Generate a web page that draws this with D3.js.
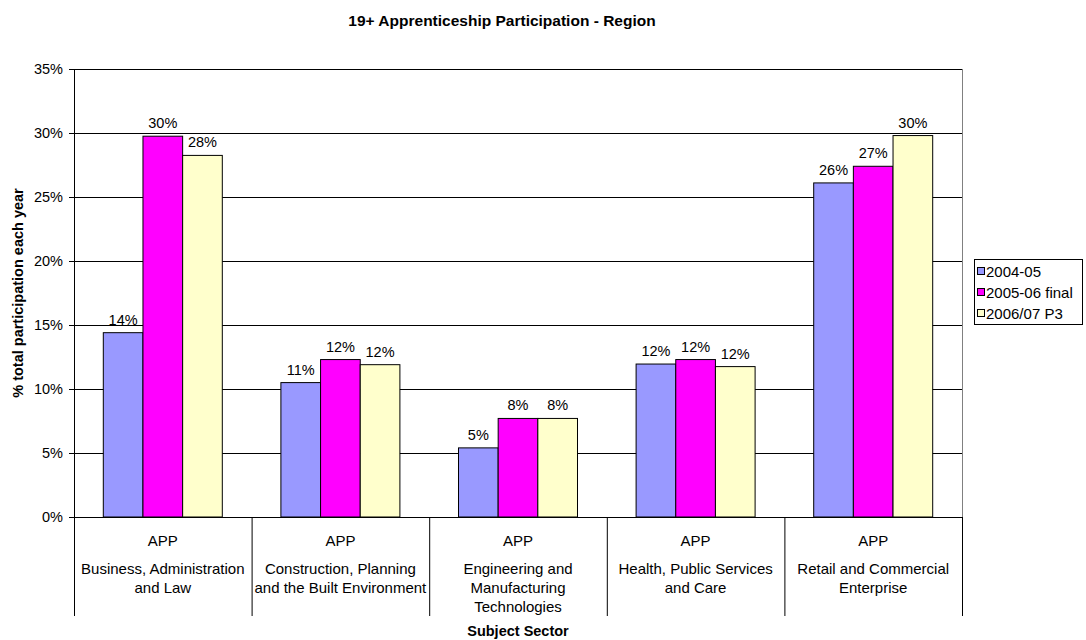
<!DOCTYPE html>
<html>
<head>
<meta charset="utf-8">
<script src="https://cdn.jsdelivr.net/npm/d3@7"></script>
<style>
  body { margin: 0; background: #fff; }
  text { font-family: "Liberation Sans", Arial, sans-serif; fill: #000; }
</style>
</head>
<body>
<div id="chart"></div>
<script>
const sectors = [
  ["Business, Administration", "and Law"],
  ["Construction, Planning", "and the Built Environment"],
  ["Engineering and", "Manufacturing", "Technologies"],
  ["Health, Public Services", "and Care"],
  ["Retail and Commercial", "Enterprise"]
];
const seriesNames = ["2004-05", "2005-06 final", "2006/07 P3"];
const v2004 = [14.4, 10.5, 5.4, 11.95, 26.1];
const v2005 = [29.75, 12.3, 7.7, 12.3, 27.4];
const v2006 = [28.25, 11.9, 7.7, 11.75, 29.8];
const yTicks = [0, 5, 10, 15, 20, 25, 30, 35];
const colors = ["#9999FF", "#FF00FF", "#FFFFCC"];

const W = 1086, H = 640;
const margin = { top: 69, right: 124, bottom: 123, left: 74 };
const width = W - margin.left - margin.right;
const height = H - margin.top - margin.bottom;

const svg = d3.select("#chart").append("svg")
  .attr("width", W).attr("height", H);

svg.append("text")
  .attr("x", 502).attr("y", 26)
  .attr("text-anchor", "middle")
  .style("font-size", "15.5px").style("font-weight", "bold")
  .text("19+ Apprenticeship Participation - Region");

const g = svg.append("g").attr("transform", `translate(${margin.left},${margin.top})`);

const x0 = d3.scaleBand().domain(d3.range(sectors.length)).range([0, width]);
const x1 = d3.scaleBand().domain(d3.range(3)).range([29.3, x0.bandwidth() - 29.3]);
const y = d3.scaleLinear().domain([0, 35]).range([height, 0]);

// gridlines
g.selectAll(".grid").data(yTicks.slice(1)).enter().append("line")
  .attr("x1", 0).attr("x2", width)
  .attr("y1", d => y(d) + 0.5).attr("y2", d => y(d) + 0.5)
  .attr("stroke", "#000").attr("stroke-width", 1);

// right border
g.append("line")
  .attr("x1", width + 0.5).attr("x2", width + 0.5)
  .attr("y1", 0).attr("y2", height)
  .attr("stroke", "#808080");

// y axis
const yAxis = g.append("g")
  .call(d3.axisLeft(y).tickValues(yTicks).tickFormat(d => d + "%").tickSize(5).tickSizeOuter(0));
yAxis.select(".domain").attr("stroke", "#000");
yAxis.selectAll("text").style("font-size", "14.5px").attr("x", -11);

const data = sectors.map((s, i) => [v2004[i], v2005[i], v2006[i]]);

const groups = g.selectAll(".grp").data(data).enter().append("g")
  .attr("transform", (d, i) => `translate(${x0(i)},0)`);

groups.selectAll("rect").data(d => d).enter().append("rect")
  .attr("x", (d, j) => x1(j))
  .attr("y", d => y(d))
  .attr("width", x1.bandwidth())
  .attr("height", d => height - y(d))
  .attr("fill", (d, j) => colors[j])
  .attr("stroke", "#000").attr("stroke-width", 1);

groups.selectAll(".val").data(d => d).enter().append("text")
  .attr("x", (d, j) => x1(j) + x1.bandwidth() / 2)
  .attr("y", d => y(d) - 8)
  .attr("text-anchor", "middle")
  .style("font-size", "14.5px")
  .text(d => Math.round(d) + "%");

// x axis baseline and category separators
g.append("line")
  .attr("x1", 0).attr("x2", width)
  .attr("y1", height + 0.5).attr("y2", height + 0.5)
  .attr("stroke", "#000");

g.selectAll(".sep").data(d3.range(sectors.length + 1)).enter().append("line")
  .attr("x1", i => (i < sectors.length ? x0(i) : width) + 0.5)
  .attr("x2", i => (i < sectors.length ? x0(i) : width) + 0.5)
  .attr("y1", height).attr("y2", height + 99)
  .attr("stroke", "#000");

const labels = g.selectAll(".cat").data(sectors).enter().append("g")
  .attr("transform", (d, i) => `translate(${x0(i) + x0.bandwidth() / 2},${height})`);

labels.append("text")
  .attr("y", 29).attr("text-anchor", "middle")
  .style("font-size", "15px").text("APP");

labels.selectAll(".ln").data(d => d).enter().append("text")
  .attr("y", (d, k) => 57 + k * 19)
  .attr("text-anchor", "middle")
  .style("font-size", "15px")
  .text(d => d);

g.append("text")
  .attr("x", width / 2).attr("y", height + 119)
  .attr("text-anchor", "middle")
  .style("font-size", "14.5px").style("font-weight", "bold")
  .text("Subject Sector");

svg.append("text")
  .attr("transform", `translate(23,${margin.top + height / 2}) rotate(-90)`)
  .attr("text-anchor", "middle")
  .style("font-size", "14.5px").style("font-weight", "bold")
  .text("% total participation each year");

// legend
const legend = svg.append("g").attr("transform", "translate(974,259)");
legend.append("rect")
  .attr("x", 0.5).attr("y", 0.5).attr("width", 108).attr("height", 65)
  .attr("fill", "#fff").attr("stroke", "#000");
const items = legend.selectAll(".item").data(seriesNames).enter().append("g")
  .attr("transform", (d, i) => `translate(3,${8 + i * 21})`);
items.append("rect")
  .attr("x", 0.5).attr("y", 0.5).attr("width", 7).attr("height", 7)
  .attr("fill", (d, i) => colors[i]).attr("stroke", "#000");
items.append("text")
  .attr("x", 9).attr("y", 9.5)
  .style("font-size", "15px")
  .text(d => d);
</script>
</body>
</html>
